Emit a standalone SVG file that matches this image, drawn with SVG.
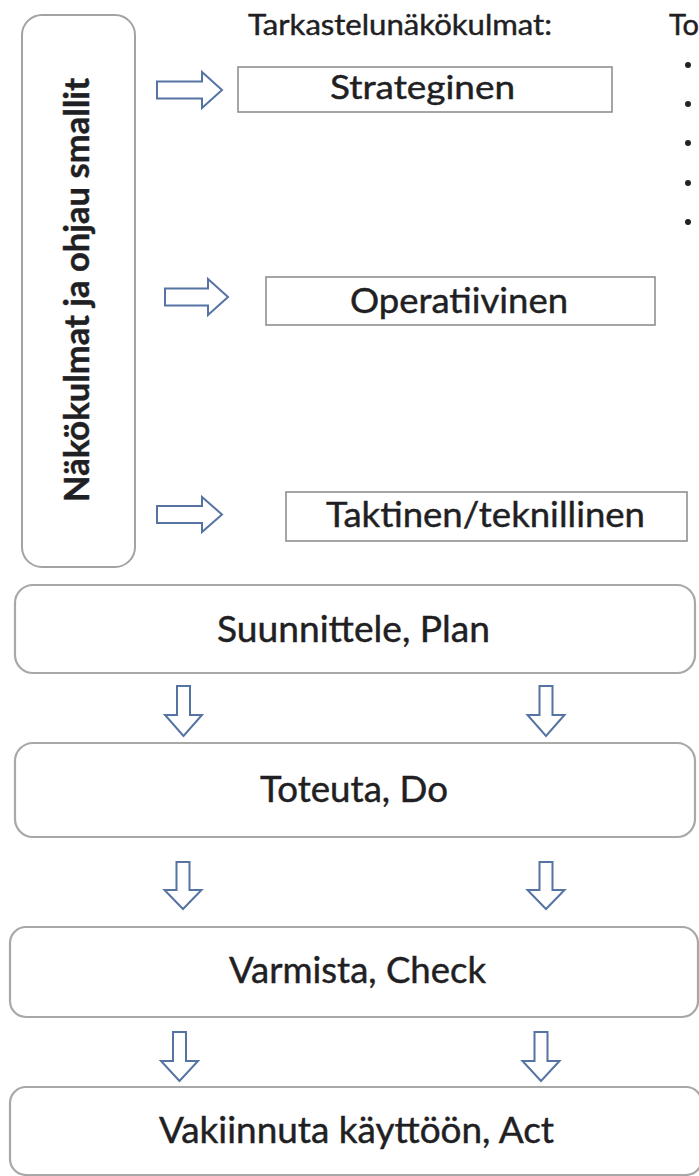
<svg xmlns="http://www.w3.org/2000/svg" width="699" height="1176" viewBox="0 0 699 1176">
  <style>
    .bg { fill: #ffffff; }
    .lbl { font-family: Lato, "Liberation Sans", sans-serif; fill: #1f1f24; stroke: #1f1f24; stroke-width: 0.45; }
    .side { fill: #ffffff; stroke: #a3a3a3; stroke-width: 2; }
    .view { fill: #ffffff; stroke: #8f8f8f; stroke-width: 1.6; }
    .step { fill: #ffffff; stroke: #a8a8a8; stroke-width: 2.2; }
    .arrow { fill: #ffffff; stroke: #5573a3; stroke-width: 2; stroke-linejoin: miter; }
    .dot { fill: #222222; }
  </style>

  <rect class="bg" x="0" y="0" width="699" height="1176"/>

  <!-- Vertical frame: viewpoints and control models -->
  <g id="side-frame">
    <rect class="side" x="22" y="15" width="113" height="552" rx="20" ry="20"/>
    <text class="lbl" transform="translate(89,290) rotate(-90)" font-size="34" font-weight="700" text-anchor="middle" textLength="424" lengthAdjust="spacingAndGlyphs">Näkökulmat ja ohjau smallit</text>
  </g>

  <!-- Heading and the list column at the right edge -->
  <g id="heading">
    <text class="lbl" x="248" y="35" font-size="29" textLength="304" lengthAdjust="spacingAndGlyphs">Tarkastelunäkökulmat:</text>
  </g>
  <g id="list">
    <text class="lbl" x="669" y="35" font-size="29" textLength="30" lengthAdjust="spacingAndGlyphs">To</text>
    <circle class="dot" cx="688" cy="65" r="3"/>
    <circle class="dot" cx="688" cy="104" r="3"/>
    <circle class="dot" cx="688" cy="143" r="3"/>
    <circle class="dot" cx="688" cy="183" r="3"/>
    <circle class="dot" cx="688" cy="222" r="3"/>
  </g>

  <!-- Viewpoint boxes -->
  <g id="strateginen">
    <rect class="view" x="238" y="67" width="374" height="45"/>
    <text class="lbl" x="422.5" y="99" font-size="32" text-anchor="middle" textLength="185" lengthAdjust="spacingAndGlyphs">Strateginen</text>
  </g>
  <g id="operatiivinen">
    <rect class="view" x="266" y="277" width="389" height="48"/>
    <text class="lbl" x="459" y="313" font-size="34" text-anchor="middle" textLength="218" lengthAdjust="spacingAndGlyphs">Operatiivinen</text>
  </g>
  <g id="taktinen">
    <rect class="view" x="286" y="492" width="401" height="49"/>
    <text class="lbl" x="485.5" y="527" font-size="35" text-anchor="middle" textLength="319" lengthAdjust="spacingAndGlyphs">Taktinen/teknillinen</text>
  </g>

  <!-- PDCA steps -->
  <g id="plan">
    <rect class="step" x="15" y="585" width="680" height="88" rx="18" ry="18"/>
    <text class="lbl" x="353.5" y="642" font-size="36" text-anchor="middle" textLength="273" lengthAdjust="spacingAndGlyphs">Suunnittele, Plan</text>
  </g>
  <g id="do">
    <rect class="step" x="15" y="743" width="680" height="94" rx="18" ry="18"/>
    <text class="lbl" x="354" y="802" font-size="36" text-anchor="middle" textLength="188" lengthAdjust="spacingAndGlyphs">Toteuta, Do</text>
  </g>
  <g id="check">
    <rect class="step" x="10" y="927" width="688" height="90" rx="16" ry="16"/>
    <text class="lbl" x="357.5" y="983" font-size="36" text-anchor="middle" textLength="257" lengthAdjust="spacingAndGlyphs">Varmista, Check</text>
  </g>
  <g id="act">
    <rect class="step" x="10" y="1087" width="692" height="88" rx="16" ry="16"/>
    <text class="lbl" x="356.5" y="1143" font-size="36" text-anchor="middle" textLength="395" lengthAdjust="spacingAndGlyphs">Vakiinnuta käyttöön, Act</text>
  </g>

  <!-- Block arrows -->
  <g id="connectors">
    <!-- side frame to viewpoints -->
    <path class="arrow" d="M157,81.5 H202 V72 L222,90 L202,108 V98.5 H157 Z"/>
    <path class="arrow" d="M165,288.5 H208 V279 L228,297 L208,315 V305.5 H165 Z"/>
    <path class="arrow" d="M157,506 H202 V497 L222,514.5 L202,532 V523 H157 Z"/>
    <!-- plan to do -->
    <path class="arrow" d="M177,686 H190 V715 H202 L183.5,736 L165,715 H177 Z"/>
    <path class="arrow" d="M539.5,686 H552.5 V715 H564.5 L546,736 L527.5,715 H539.5 Z"/>
    <!-- do to check -->
    <path class="arrow" d="M176.5,862 H189.5 V890 H201.5 L183,909 L164.5,890 H176.5 Z"/>
    <path class="arrow" d="M539.5,862 H552.5 V890 H564.5 L546,909 L527.5,890 H539.5 Z"/>
    <!-- check to act -->
    <path class="arrow" d="M173,1032 H186 V1061 H198 L179.5,1081 L161,1061 H173 Z"/>
    <path class="arrow" d="M534.5,1032 H547.5 V1061 H559.5 L541,1081 L522.5,1061 H534.5 Z"/>
  </g>
</svg>
